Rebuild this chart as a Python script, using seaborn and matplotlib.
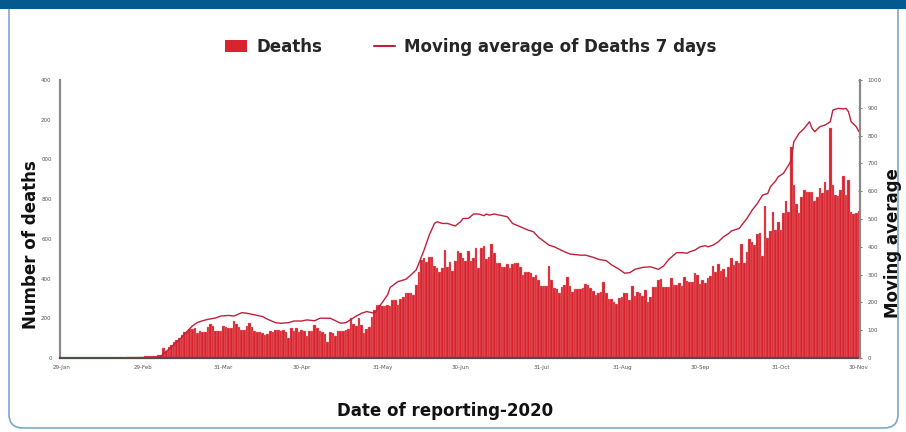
import pandas as pd
import matplotlib
matplotlib.use("Agg")
import matplotlib.pyplot as plt
from matplotlib.patches import FancyBboxPatch, Rectangle, Patch
from matplotlib.lines import Line2D
from matplotlib.transforms import IdentityTransform
import seaborn as sns

# daily deaths, one value per day starting 29-Jan-2020
start_date = "2020-01-29"
deaths = [
    0, 0, 0, 0, 0, 0, 0, 0, 0, 0, 0, 0, 0, 0, 0, 0, 0, 0, 0, 0, 0,
    1, 1, 2, 2, 3, 3, 4, 5, 5, 6, 7, 8, 9, 10, 11, 12, 13, 15,
    49, 37, 57, 65, 82, 92, 99, 116, 129, 138, 146, 146, 149, 126, 134, 133,
    129, 154, 171, 163, 138, 136, 138, 163, 154, 153, 149, 186, 171, 156, 141,
    143, 160, 175, 154, 136, 129, 131, 124, 118, 119, 138, 129, 141, 139, 136,
    141, 133, 99, 149, 138, 151, 129, 141, 134, 109, 136, 138, 166, 149, 138, 129,
    119, 82, 133, 124, 111, 136, 136, 136, 141, 148, 200, 171, 161, 200, 166,
    124, 144, 158, 208, 242, 267, 267, 262, 262, 267, 262, 292, 292, 267, 295,
    309, 326, 326, 326, 317, 368, 435, 494, 502, 485, 510, 510, 463, 452, 435,
    452, 544, 460, 485, 440, 489, 539, 531, 505, 489, 541, 487, 502, 552, 452,
    556, 566, 497, 510, 573, 527, 477,
    477, 457, 460, 472, 452, 472, 480, 477, 460, 418, 435, 435, 426, 410, 418,
    393, 363, 363, 363, 463, 393, 351, 346, 326, 356, 368, 406, 363, 334, 346,
    346, 348, 351, 371, 368, 351, 339, 317, 326, 334, 381, 326, 297, 296, 284,
    272, 304, 309, 326, 329, 290, 364, 314, 334, 329, 312, 343, 282, 309, 356,
    359, 393, 400, 359, 359, 359, 401, 368, 368, 376, 364, 410, 388,
    384, 384, 426, 418, 371, 393, 376, 405, 413, 465, 435, 472, 438, 448, 410,
    460, 502, 468, 490, 480, 573, 480, 536, 598, 586, 569, 623, 631, 514, 766,
    606, 641, 734, 645, 687, 645, 732, 791, 737, 1065, 871, 776, 729, 809, 846,
    838, 838, 838, 792, 813, 855, 833, 885, 846, 1157, 871, 821, 816, 846, 917,
    821, 897, 734, 725, 732, 742,
]

# 7-day moving average (right axis), day offset from 29-Jan
ma_days = [
    0, 20, 28, 36, 38, 41, 45, 48, 50, 52, 54, 56, 59, 61, 64, 66, 69, 71, 74, 77,
    79, 82, 84, 87, 89, 92, 94, 97, 99, 103, 105, 107, 109, 111, 113, 115, 117, 119, 120, 122,
    125, 126, 129, 132, 134, 136, 137, 139, 141, 143, 144, 146, 148, 150, 151, 153, 154, 156, 158, 160,
    162, 163, 164, 166, 168, 171, 173, 176, 179, 181, 183, 186, 187, 189, 191, 193, 195, 199, 201, 204,
    206, 209, 211, 214, 216, 218, 220, 223, 226, 229, 231, 233, 236, 238, 240, 241, 243, 245, 247, 248,
    250, 252, 254, 256, 257, 260, 261, 263, 265, 267, 269, 271, 272, 274, 275, 277, 279, 280, 281, 283,
    285, 287, 288, 289, 291, 293, 295, 296, 298, 300, 301, 302, 303, 305, 306,
]
ma_values = [
    0, 0, 1, 2, 7, 31, 65, 95, 115, 128, 134, 139, 144, 151, 153, 151, 163, 161, 155, 149,
    139, 127, 125, 127, 133, 133, 137, 134, 143, 143, 134, 125, 127, 139, 151, 161, 167, 163, 161, 187,
    227, 254, 275, 283, 299, 317, 341, 388, 442, 484, 490, 484, 484, 478, 475, 490, 502, 502, 518, 518,
    512, 518, 514, 518, 514, 508, 484, 472, 460, 454, 434, 413, 406, 400, 391, 382, 374, 370, 370, 362,
    355, 350, 335, 319, 305, 307, 319, 326, 328, 319, 331, 355, 379, 379, 377, 382, 388, 400, 404, 400,
    406, 418, 436, 448, 457, 466, 478, 502, 532, 556, 586, 592, 616, 637, 652, 664, 694, 712, 778, 808,
    826, 850, 826, 814, 832, 838, 850, 892, 898, 896, 898, 886, 850, 832, 814,
]

tick_dates = [
    "2020-01-29", "2020-02-29", "2020-03-31", "2020-04-30", "2020-05-31", "2020-06-30",
    "2020-07-31", "2020-08-31", "2020-09-30", "2020-10-31", "2020-11-30",
]
left_ticks = [0, 200, 400, 600, 800, 1000, 1200, 1400]
left_tick_labels = ["0", "200", "400", "600", "800", "000", "200", "400"]
right_ticks = [0, 100, 200, 300, 400, 500, 600, 700, 800, 900, 1000]

BAR_RED = "#d8242e"
BAR_EDGE = "#ee8c92"
LINE_RED = "#c0203c"
TICK_GREY = "#555555"

sns.set_style("white")
plt.rcParams["font.family"] = ["DejaVu Sans"]

dates = pd.date_range(start_date, periods=len(deaths), freq="D")
df = pd.DataFrame({"day": (dates - dates[0]).days, "deaths": deaths})
ma = pd.DataFrame({"day": ma_days, "ma": ma_values})

fig = plt.figure(figsize=(9.06, 4.32), dpi=100)
ax = fig.add_axes([0.0662, 0.1713, 0.8830, 0.6435])

sns.barplot(data=df, x="day", y="deaths", native_scale=True, color=BAR_RED,
            saturation=1, width=1.0, errorbar=None, edgecolor=BAR_EDGE,
            linewidth=0.25, ax=ax)
ax2 = ax.twinx()
sns.lineplot(data=ma, x="day", y="ma", color=LINE_RED, linewidth=1.0, ax=ax2)

tick_pos = (pd.to_datetime(tick_dates) - dates[0]).days
ax.set_xlim(-0.8, 306.4)
ax.set_xticks(tick_pos)
ax.set_xticklabels(pd.to_datetime(tick_dates).strftime("%d-%b"))
ax.set_ylim(0, 1400)
ax.set_yticks(left_ticks)
ax.set_yticklabels(left_tick_labels)
ax2.set_ylim(0, 1000)
ax2.set_yticks(right_ticks)

for a in (ax, ax2):
    a.set_xlabel("")
    a.set_ylabel("")
    a.grid(False)

ax.spines["top"].set_visible(False)
ax.spines["right"].set_visible(False)
ax.spines["left"].set_color("#8a8a8a")
ax.spines["left"].set_linewidth(1.6)
ax.spines["bottom"].set_color("#4d4d4d")
ax.spines["bottom"].set_linewidth(1.6)
for s in ["top", "left", "bottom"]:
    ax2.spines[s].set_visible(False)
ax2.spines["right"].set_color("#8a8a8a")
ax2.spines["right"].set_linewidth(1.6)

ax.tick_params(axis="both", length=0, labelsize=4, labelcolor=TICK_GREY)
ax.tick_params(axis="y", pad=6)
ax.tick_params(axis="x", pad=5)
ax2.tick_params(axis="y", direction="inout", length=3, width=0.6, color="#666666",
                labelsize=4, labelcolor=TICK_GREY, pad=4)

label_font = {"weight": "bold", "size": 12, "color": "#111111"}
fig.text(31 / 906, 1 - 245 / 432, "Number of deaths", rotation=90,
         ha="center", va="center", **label_font)
fig.text(893 / 906, 1 - 243 / 432, "Moving average", rotation=90,
         ha="center", va="center", **label_font)
fig.text(445 / 906, 1 - 411 / 432, "Date of reporting-2020",
         ha="center", va="center", **label_font)

handles = [Patch(facecolor=BAR_RED, edgecolor="none"),
           Line2D([], [], color=LINE_RED, linewidth=1.5)]
fig.legend(handles, ["Deaths", "Moving average of Deaths 7 days"],
           loc="center", bbox_to_anchor=(471 / 906, 1 - 47 / 432), ncol=2,
           frameon=False, prop={"weight": "bold", "size": 12},
           handlelength=1.3, handleheight=0.75, handletextpad=0.55,
           columnspacing=3.1)

# panel frame and top banner, in pixel units
panel = FancyBboxPatch((9, 4), 889, 440, boxstyle="round,pad=0,rounding_size=14",
                       transform=IdentityTransform(), facecolor="none",
                       edgecolor="#7ea6c9", linewidth=1.2)
fig.add_artist(panel)
banner = Rectangle((0, 423), 906, 9, transform=IdentityTransform(),
                   facecolor="#045a8f", edgecolor="none")
fig.add_artist(banner)

fig.savefig("out.png", dpi=100)
plt.close(fig)
